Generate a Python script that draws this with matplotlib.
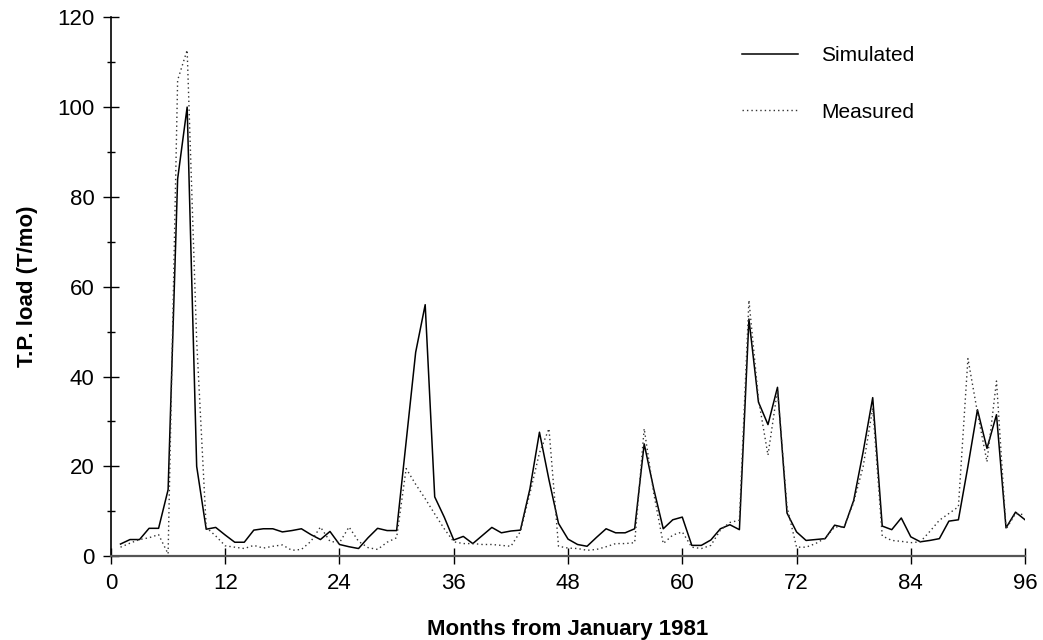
import numpy as np
import matplotlib
matplotlib.use("Agg")
import matplotlib.pyplot as plt
from matplotlib.ticker import MultipleLocator

plt.rcParams['font.family'] = ['Liberation Sans', 'DejaVu Sans']

# Monthly T.P. loads (T/mo), months 1..96 from January 1981
months = np.arange(1, 97)

simulated = [
    2.7, 3.7, 3.7, 6.2, 6.2, 14.8, 84.0, 100.0, 20.0, 6.0, 6.4, 4.7,
    3.1, 3.1, 5.8, 6.1, 6.1, 5.4, 5.7, 6.1, 4.8, 3.7, 5.5, 2.6,
    2.1, 1.7, 4.1, 6.2, 5.7, 5.7, 25.5, 45.4, 56.0, 13.2, 8.7, 3.6,
    4.4, 2.8, 4.6, 6.4, 5.2, 5.6, 5.8, 15.0, 27.6, 17.0, 7.3, 3.8,
    2.6, 2.2, 4.2, 6.1, 5.2, 5.2, 6.1, 25.0, 15.0, 6.1, 8.1, 8.7,
    2.4, 2.4, 3.6, 6.1, 7.0, 5.9, 52.8, 34.3, 29.3, 37.6, 9.6, 5.4,
    3.5, 3.7, 3.9, 6.9, 6.4, 12.4, 23.3, 35.3, 6.7, 5.9, 8.5, 4.3,
    3.2, 3.5, 3.9, 7.8, 8.1, 20.0, 32.6, 24.0, 31.5, 6.3, 9.8, 8.1,
]

measured = [
    2.0, 2.9, 3.7, 4.1, 4.8, 0.5, 106.0, 112.7, 48.0, 6.4, 4.5, 2.3,
    2.0, 1.7, 2.4, 1.8, 2.2, 2.5, 1.3, 1.5, 3.3, 6.5, 3.3, 3.0,
    6.5, 3.3, 1.9, 1.5, 3.1, 4.1, 19.5, 16.0, 12.8, 9.4, 6.1, 3.2,
    2.8, 2.8, 2.6, 2.6, 2.4, 2.2, 5.5, 14.0, 23.0, 28.4, 2.2, 1.8,
    1.7, 1.3, 1.5, 2.1, 2.8, 2.8, 3.0, 28.4, 14.0, 2.8, 4.7, 5.4,
    2.0, 1.7, 2.4, 5.8, 7.5, 8.0, 57.0, 35.0, 22.5, 37.0, 11.0, 2.0,
    2.0, 2.8, 4.0, 6.5, 6.5, 12.0, 20.0, 33.0, 4.5, 3.5, 3.3, 3.0,
    3.2, 5.5, 8.0, 9.5, 11.0, 44.0, 32.0, 21.0, 39.0, 6.0, 9.5, 9.2,
]

x_ticks = np.arange(0, 97, 12)
y_ticks = np.arange(0, 121, 20)

fig = plt.figure(figsize=(10.43, 6.4), dpi=100)
ax = fig.add_axes([0.1064, 0.131, 0.8764, 0.842])

ax.plot(months, simulated, color='black', lw=1.1, label='Simulated')
ax.plot(months, measured, color='#333333', lw=1.0,
        linestyle=(0, (1, 2.2)), label='Measured')

ax.set_xlim(0, 96)
ax.set_ylim(0, 120)
ax.set_xticks(x_ticks)
ax.set_yticks(y_ticks)
ax.yaxis.set_minor_locator(MultipleLocator(10))

for side in ['top', 'right']:
    ax.spines[side].set_visible(False)
ax.spines['left'].set_linewidth(1.2)
ax.spines['bottom'].set_color('#555555')
ax.spines['bottom'].set_linewidth(1.6)

ax.tick_params(axis='both', which='major', direction='inout', length=12,
               width=1.0, labelsize=16, colors='black', pad=6)
ax.tick_params(axis='y', which='minor', direction='inout', length=6, width=1.0)

ax.set_xlabel('Months from January 1981', fontsize=16, fontweight='bold',
              labelpad=18)
ax.set_ylabel('T.P. load (T/mo)', fontsize=16, fontweight='bold', labelpad=14)

ax.legend(loc='upper left', bbox_to_anchor=(0.679, 0.966), frameon=False,
          fontsize=15, handlelength=2.7, handletextpad=1.1, labelspacing=1.8,
          borderpad=0)

fig.savefig('out.png', dpi=100)
